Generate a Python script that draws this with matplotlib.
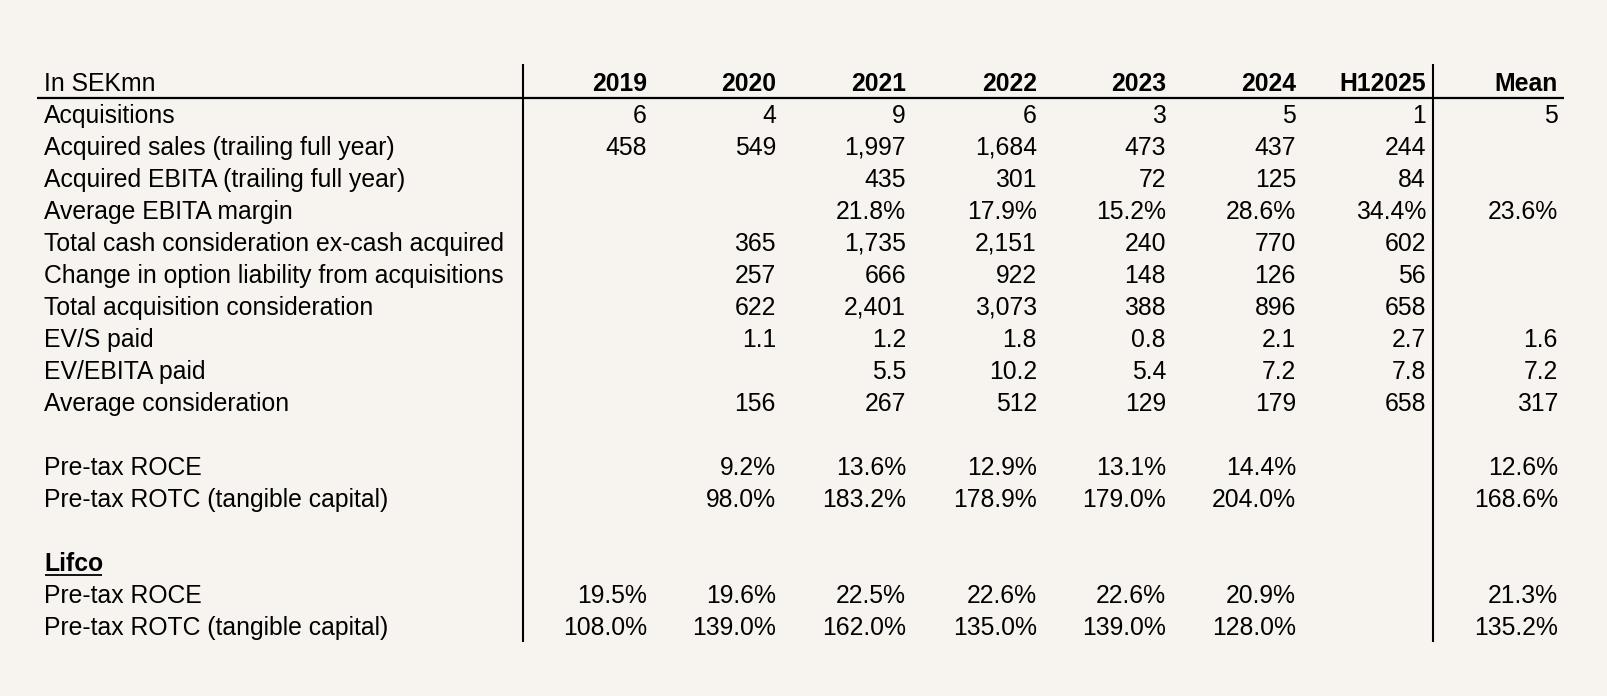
import matplotlib
matplotlib.use("Agg")
import matplotlib.pyplot as plt

plt.rcParams['font.family'] = ['Liberation Sans', 'DejaVu Sans']

BG = '#f7f4f0'

header_label = "In SEKmn"
columns = ["2019", "2020", "2021", "2022", "2023", "2024", "H12025", "Mean"]

row_labels = [
    "Acquisitions",
    "Acquired sales (trailing full year)",
    "Acquired EBITA (trailing full year)",
    "Average EBITA margin",
    "Total cash consideration ex-cash acquired",
    "Change in option liability from acquisitions",
    "Total acquisition consideration",
    "EV/S paid",
    "EV/EBITA paid",
    "Average consideration",
    "",
    "Pre-tax ROCE",
    "Pre-tax ROTC (tangible capital)",
    "",
    "Lifco",
    "Pre-tax ROCE",
    "Pre-tax ROTC (tangible capital)",
]

acquisitions = ["6", "4", "9", "6", "3", "5", "1", "5"]
acq_sales = ["458", "549", "1,997", "1,684", "473", "437", "244", ""]
acq_ebita = ["", "", "435", "301", "72", "125", "84", ""]
ebita_margin = ["", "", "21.8%", "17.9%", "15.2%", "28.6%", "34.4%", "23.6%"]
cash_consideration = ["", "365", "1,735", "2,151", "240", "770", "602", ""]
option_liability = ["", "257", "666", "922", "148", "126", "56", ""]
total_consideration = ["", "622", "2,401", "3,073", "388", "896", "658", ""]
ev_s = ["", "1.1", "1.2", "1.8", "0.8", "2.1", "2.7", "1.6"]
ev_ebita = ["", "", "5.5", "10.2", "5.4", "7.2", "7.8", "7.2"]
avg_consideration = ["", "156", "267", "512", "129", "179", "658", "317"]
blank = [""] * 8
roce = ["", "9.2%", "13.6%", "12.9%", "13.1%", "14.4%", "", "12.6%"]
rotc = ["", "98.0%", "183.2%", "178.9%", "179.0%", "204.0%", "", "168.6%"]
lifco_roce = ["19.5%", "19.6%", "22.5%", "22.6%", "22.6%", "20.9%", "", "21.3%"]
lifco_rotc = ["108.0%", "139.0%", "162.0%", "135.0%", "139.0%", "128.0%", "", "135.2%"]

rows = [acquisitions, acq_sales, acq_ebita, ebita_margin, cash_consideration,
        option_liability, total_consideration, ev_s, ev_ebita, avg_consideration,
        blank, roce, rotc, blank, blank, lifco_roce, lifco_rotc]

W, H = 1608, 696
fig = plt.figure(figsize=(W / 100, H / 100), dpi=100, facecolor=BG)
ax = fig.add_axes([0, 0, 1, 1])
ax.set_xlim(0, W)
ax.set_ylim(H, 0)
ax.axis('off')
ax.set_facecolor(BG)

FS = 17.8
label_x = 44
col_right = [647, 776, 906, 1037, 1166, 1296, 1426, 1558]
header_y = 84
row0_y = 116
row_h = 32.0

ax.text(label_x, header_y, header_label, fontsize=FS, ha='left', va='center')
for cx, c in zip(col_right, columns):
    ax.text(cx, header_y, c, fontsize=FS, ha='right', va='center', fontweight='bold')

lifco_txt = None
for i, (lab, vals) in enumerate(zip(row_labels, rows)):
    y = row0_y + i * row_h
    if lab == "Lifco":
        lifco_txt = ax.text(label_x, y, lab, fontsize=FS, ha='left', va='center',
                            fontweight='bold')
    elif lab:
        ax.text(label_x, y, lab, fontsize=FS, ha='left', va='center')
    for cx, v in zip(col_right, vals):
        if v:
            ax.text(cx, y, v, fontsize=FS, ha='right', va='center')

# header rule and vertical separators
ax.plot([37, 1564], [97.5, 97.5], color='black', lw=1.6, solid_capstyle='butt')
ax.plot([523, 523], [64, 642], color='black', lw=1.5, solid_capstyle='butt')
ax.plot([1433, 1433], [64, 642], color='black', lw=1.5, solid_capstyle='butt')

# underline for Lifco
fig.canvas.draw()
bb = lifco_txt.get_window_extent(renderer=fig.canvas.get_renderer())
inv = ax.transData.inverted()
(x0, _), (x1, _) = inv.transform([(bb.x0, bb.y0), (bb.x1, bb.y0)])
uy = row0_y + 14 * row_h + 10.5
ax.plot([x0 + 1, x1 - 1], [uy, uy], color='black', lw=1.3, solid_capstyle='butt')

fig.savefig("out.png", dpi=100, facecolor=BG)
